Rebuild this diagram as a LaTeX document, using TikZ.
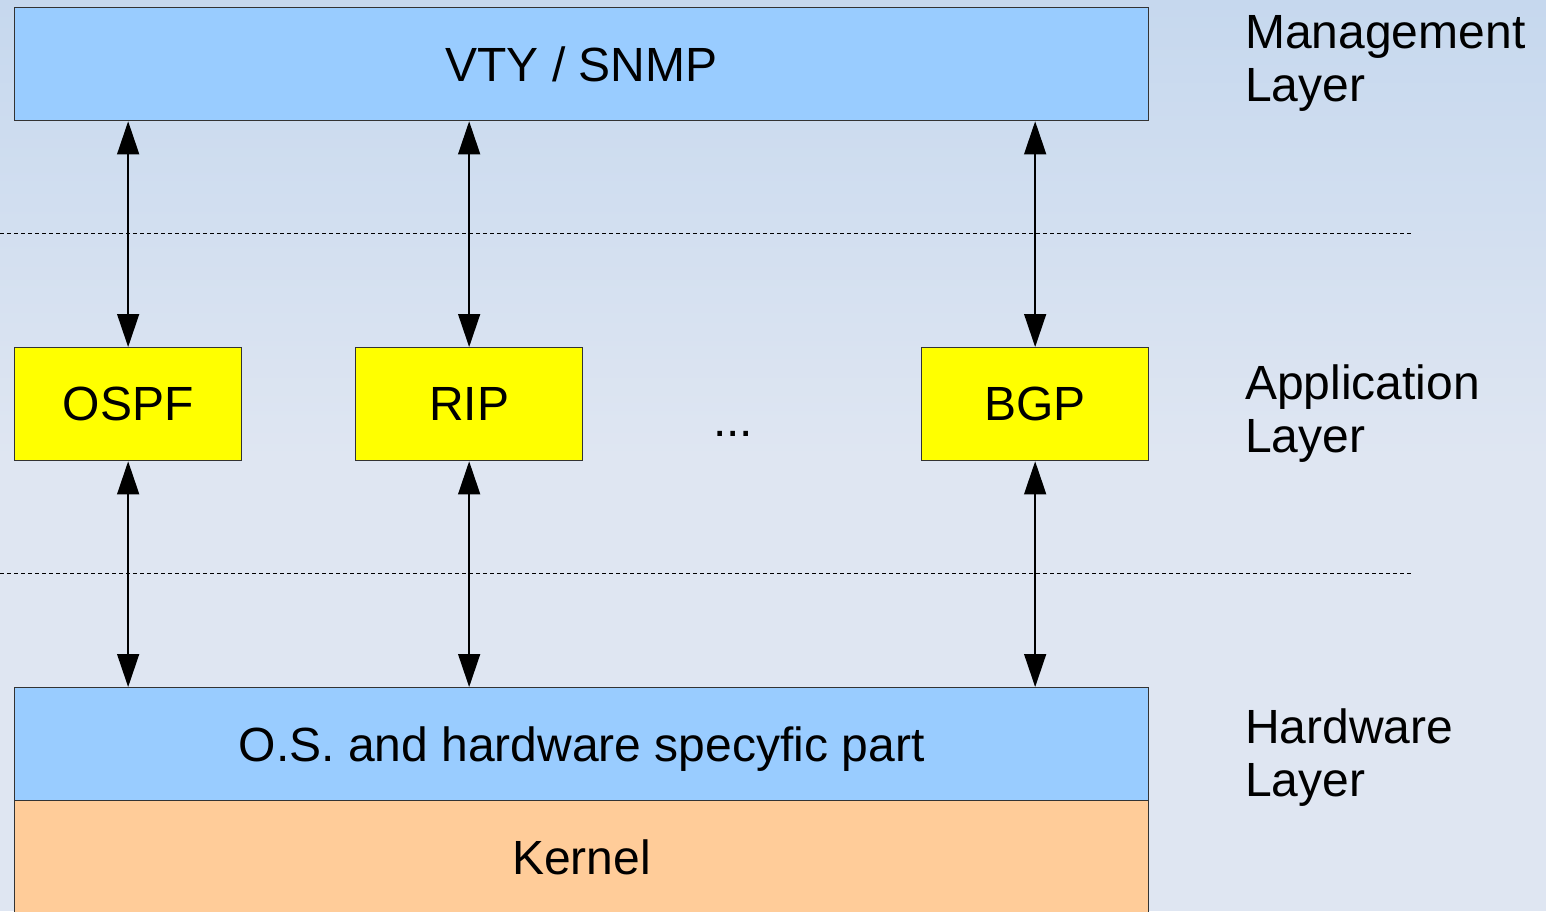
\documentclass[tikz,border=0pt]{standalone}
\usepackage{fontspec}
\setmainfont{Liberation Sans}
\usetikzlibrary{arrows.meta}
\definecolor{bgtop}{HTML}{C6D8EE}
\definecolor{bgmid}{HTML}{DFE6F2}
\definecolor{mgmtblue}{HTML}{99CCFF}
\definecolor{appyellow}{HTML}{FFFF00}
\definecolor{kernelorange}{HTML}{FFCC99}
\definecolor{edgegray}{HTML}{333333}
\tikzset{
  layerbox/.style={draw=edgegray, line width=1.3pt, inner sep=0pt, anchor=north west,
    font=\fontsize{48}{56}\selectfont},
  protobox/.style={layerbox, fill=appyellow, minimum width=227pt, minimum height=113pt},
  widebox/.style={layerbox, fill=mgmtblue, minimum width=1134pt, minimum height=113pt},
  layerlabel/.style={anchor=north west, align=left, inner sep=0pt,
    font=\fontsize{48}{53}\selectfont},
  link/.style={line width=1.4pt, {Triangle[length=33pt,width=22pt]}-{Triangle[length=33pt,width=22pt]}},
  separator/.style={line width=0.9pt, dash pattern=on 4pt off 3pt}
}
\begin{document}
\begin{tikzpicture}[x=1pt,y=-1pt]
  \useasboundingbox (0,0) rectangle (1546,911);
  \clip (0,0) rectangle (1546,911);
  % background
  \fill[top color=bgtop, bottom color=bgmid] (0,0) rectangle (1546,460);
  \fill[bgmid] (0,459) rectangle (1546,911);

  % layer separators
  \draw[separator] (0,233) -- (1413,233);
  \draw[separator] (0,573) -- (1413,573);

  % management layer
  \node[widebox] (vty) at (14,7) {VTY / SNMP};

  % application layer
  \node[protobox] (ospf) at (14,347) {OSPF};
  \node[protobox] (rip) at (355,347) {RIP};
  \node[protobox] (bgp) at (921,347) {BGP};
  \node[font=\fontsize{48}{56}\selectfont, inner sep=0pt] (dots) at (733,434) {...};

  % hardware layer
  \node[widebox, text depth=0pt, text height=35pt] (os) at (14,687) {O.S. and hardware specyfic part};
  \node[layerbox, fill=kernelorange, minimum width=1134pt, minimum height=113pt] (kernel) at (14,800) {Kernel};

  % connectors
  \foreach \p in {ospf,rip,bgp}{
    \draw[link] (\p.north) -- (\p.north |- vty.south);
    \draw[link] (\p.south) -- (\p.south |- os.north);
  }

  % layer names
  \node[layerlabel] (lmgmt) at (1245,15) {Management\\Layer};
  \node[layerlabel] (lapp) at (1245,365) {Application\\Layer};
  \node[layerlabel] (lhw) at (1245,709) {Hardware\\Layer};
\end{tikzpicture}
\end{document}
